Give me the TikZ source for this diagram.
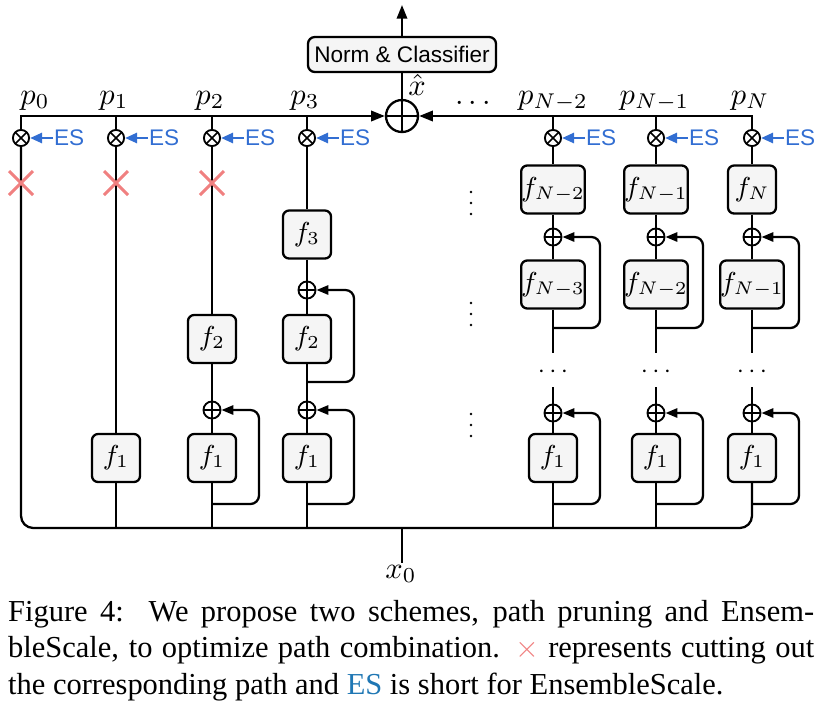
\documentclass[tikz,border=0pt]{standalone}
\usepackage{fontspec}
\setmainfont{Liberation Serif}
\newfontfamily\sansf{Liberation Sans}
\usetikzlibrary{arrows.meta}
\definecolor{xred}{RGB}{240,128,128}
\definecolor{esblue}{RGB}{50,110,210}
\definecolor{capblue}{RGB}{31,119,180}
\definecolor{boxfill}{RGB}{245,245,245}
\newcommand\sfsmall{\sansf\fontsize{7.4}{8.8}\selectfont}
\begin{document}
\begin{tikzpicture}[x=0.328pt,y=-0.328pt, line width=0.75pt,
 fbox/.style={draw, rounded corners=2pt, fill=boxfill, minimum width=15.75pt, minimum height=15.75pt, inner xsep=0pt, inner ysep=0.6pt, font=\small},
 mult/.style={draw, circle, minimum size=5.3pt, inner sep=0pt, line width=0.6pt,
   path picture={\draw[line width=0.5pt] (path picture bounding box.north west) -- (path picture bounding box.south east) (path picture bounding box.north east) -- (path picture bounding box.south west);}},
 addc/.style={draw, circle, minimum size=5.6pt, inner sep=0pt, line width=0.6pt,
   path picture={\draw[line width=0.5pt] (path picture bounding box.north) -- (path picture bounding box.south) (path picture bounding box.west) -- (path picture bounding box.east);}},
 arr/.style={-{Triangle[length=4.5pt,width=3.4pt]}},
 skip/.style={-{Triangle[length=3.9pt,width=3pt]}, rounded corners=2.8pt},
 esarr/.style={draw=esblue, -{Triangle[length=4pt,width=3.3pt]}, line width=0.9pt},
 estext/.style={text=esblue, font=\sfsmall, inner sep=0pt, anchor=west},
 plabel/.style={anchor=base, inner sep=0pt},
 cut/.style={draw=xred, line width=1pt},
]
\useasboundingbox (0,0) rectangle (829,705);

% output part
\node[addc, minimum size=10.5pt, line width=0.75pt] (sum) at (402,116) {};
\node[draw, rounded corners=2.3pt, fill=boxfill, minimum width=61.7pt, minimum height=11.5pt, font=\sfsmall, inner sep=0pt] (norm) at (402,54.5) {Norm \& Classifier};
\coordinate (out) at (402,5);
\draw (sum.north) -- (norm.south);
\draw[arr] (norm.north) -- (out);
\node[anchor=base, inner sep=0pt] (xhat) at (417,95) {$\hat{x}$};
\node[anchor=base, inner sep=0pt] (tdots) at (473,110) {$\cdots$};

% top labels
\node[plabel] (lp0) at (35,104) {$p_0$};
\node[plabel] (lp1) at (114,104) {$p_1$};
\node[plabel] (lp2) at (210,104) {$p_2$};
\node[plabel] (lp3) at (305,104) {$p_3$};
\node[plabel] (lpa) at (553,104) {$p_{N-2}$};
\node[plabel] (lpb) at (654.5,104) {$p_{N-1}$};
\node[plabel] (lpc) at (750,104) {$p_N$};

% multipliers with ES on columns 0..3
\foreach \cx/\nm in {21/0,116/1,212/2,307/3}{
  \node[mult] (m\nm) at (\cx,138) {};
  \node[estext] (es\nm) at (\cx+32,138) {ES};
  \draw[esarr] (es\nm.west) -- (m\nm.east);
  \coordinate (t\nm) at (\cx,116);
}

% bus to sum from left
\draw[arr] (m0.north) -- (t0) -- (sum.west);
\draw (t1) -- (m1.north) (t2) -- (m2.north) (t3) -- (m3.north);

% column 1
\node[fbox] (c1f1) at (116,458) {$f_1$};
% column 2
\node[fbox] (c2f2) at (212,339) {$f_2$};
\node[addc] (c2a) at (212,410) {};
\node[fbox] (c2f1) at (212,458) {$f_1$};
% column 3
\node[fbox] (c3f3) at (307,234.5) {$f_3$};
\node[addc] (c3b) at (307,290) {};
\node[fbox] (c3f2) at (307,339) {$f_2$};
\node[addc] (c3a) at (307,410) {};
\node[fbox] (c3f1) at (307,458) {$f_1$};

% columns N-2, N-1, N
\foreach \cx/\nm/\ta/\tb in {553/a/{N-2}/{N-3},656/b/{N-1}/{N-2},752/c/N/{N-1}}{
  \node[mult] (\nm m) at (\cx,138) {};
  \node[estext] (\nm es) at (\cx+32,138) {ES};
  \draw[esarr] (\nm es.west) -- (\nm m.east);
  \node[fbox] (\nm t) at (\cx,189.5) {$f_{\ta}$};
  \node[addc] (\nm p) at (\cx,237) {};
  \node[fbox] (\nm u) at (\cx,284.5) {$f_{\tb}$};
  \coordinate (\nm d1) at (\cx,353);
  \node[anchor=base, font=\footnotesize, inner sep=0pt] (\nm dots) at (\cx,377) {$\cdots$};
  \coordinate (\nm d2) at (\cx,387);
  \node[addc] (\nm q) at (\cx,413) {};
  \node[fbox] (\nm f) at (\cx,458) {$f_1$};
  \draw (\nm m.south) -- (\nm t.north) (\nm t.south) -- (\nm p.north)
        (\nm p.south) -- (\nm u.north) (\nm u.south) -- (\nm d1)
        (\nm d2) -- (\nm q.north) (\nm q.south) -- (\nm f.north);
  \coordinate (\nm s1) at (\cx,328);
  \coordinate (\nm r1) at (\cx+47,237);
  \draw[skip] (\nm s1) -| (\nm r1) -- (\nm p.east);
  \coordinate (\nm s2) at (\cx,504);
  \coordinate (\nm r2) at (\cx+47,413);
  \draw[skip] (\nm s2) -| (\nm r2) -- (\nm q.east);
}
\coordinate (tc) at (752,116);
\draw[arr] (cm.north) -- (tc) -- (sum.east);
\coordinate (ta) at (553,116);
\coordinate (tb) at (656,116);
\draw (ta) -- (am.north) (tb) -- (bm.north);

% bottom bus and x0
\coordinate (bx) at (402,528);
\draw[rounded corners=4pt] (m0.south) |- (bx) -| (cf.south);
\coordinate (x0s) at (402,563);
\draw (bx) -- (x0s);
\node[anchor=base, inner sep=0pt] (x0) at (401,578) {$x_0$};

% column lines
\draw (m1.south) -- (c1f1.north) (c1f1.south) -- (c1f1.south |- bx);
\draw (m2.south) -- (c2f2.north) (c2f2.south) -- (c2a.north) (c2a.south) -- (c2f1.north) (c2f1.south) -- (c2f1.south |- bx);
\draw (m3.south) -- (c3f3.north) (c3f3.south) -- (c3b.north) (c3b.south) -- (c3f2.north) (c3f2.south) -- (c3a.north) (c3a.south) -- (c3f1.north) (c3f1.south) -- (c3f1.south |- bx);
\draw (af.south) -- (af.south |- bx) (bf.south) -- (bf.south |- bx);

% skips columns 2, 3
\coordinate (c2s) at (212,504); \coordinate (c2r) at (259,410);
\draw[skip] (c2s) -| (c2r) -- (c2a.east);
\coordinate (c3s2) at (307,382); \coordinate (c3r2) at (354,290);
\draw[skip] (c3s2) -| (c3r2) -- (c3b.east);
\coordinate (c3s1) at (307,504); \coordinate (c3r1) at (354,410);
\draw[skip] (c3s1) -| (c3r1) -- (c3a.east);

% pruning crosses
\foreach \cx in {21,116,212}{
  \draw[cut] (\cx-12,171) -- (\cx+12,195) (\cx-12,195) -- (\cx+12,171);
}

% vertical dots
\foreach \yy in {203,314,425}{
  \foreach \dd in {-11,0,11}{
    \fill (471,\yy+\dd) circle (0.45pt);
  }
}

% caption
\node[anchor=base west, inner sep=0pt] (cap1) at (7,621) {\makebox[264.4pt][s]{Figure 4:\ \ We propose two schemes, path pruning and Ensem-}};
\node[anchor=base west, inner sep=0pt] (cap2) at (7,657.5) {\makebox[264.4pt][s]{bleScale, to optimize path combination. \textcolor{xred}{$\times$} represents cutting out}};
\node[anchor=base west, inner sep=0pt] (cap3) at (7,694) {the corresponding path and \textcolor{capblue}{ES} is short for EnsembleScale.};
\end{tikzpicture}
\end{document}
